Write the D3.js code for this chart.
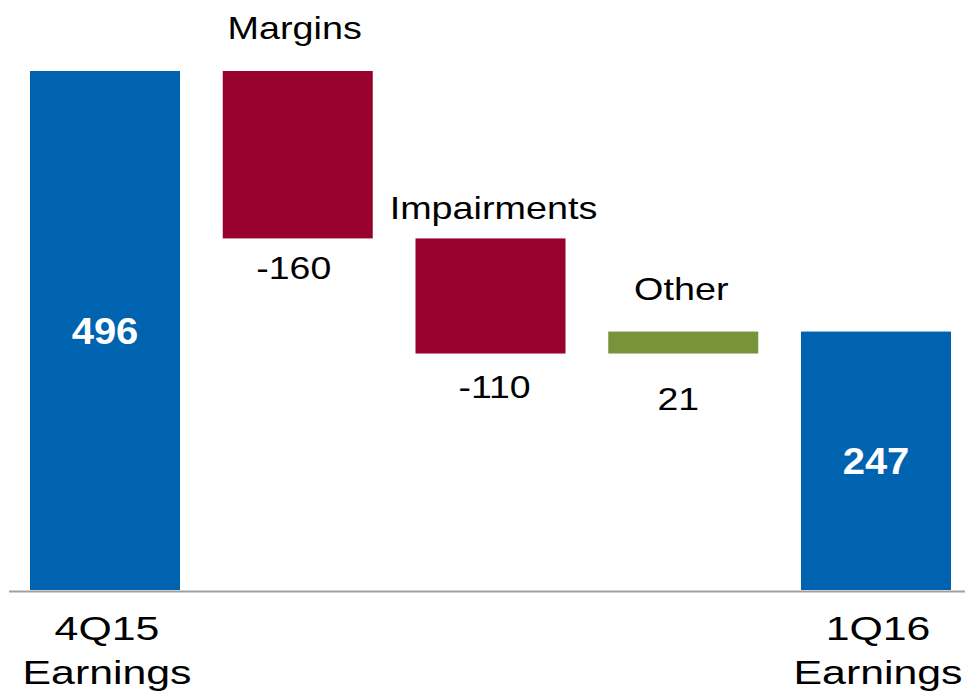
<!DOCTYPE html>
<html>
<head>
<meta charset="utf-8">
<script src="https://cdn.jsdelivr.net/npm/d3@7"></script>
<style>
  html, body { margin: 0; padding: 0; background: #ffffff; }
  svg { display: block; font-family: "Liberation Sans", Arial, sans-serif; }
</style>
</head>
<body>
<svg id="chart" width="965" height="698"></svg>
<script>
// Earnings bridge, 4Q15 to 1Q16
const categories = ["4Q15 Earnings", "Margins", "Impairments", "Other", "1Q16 Earnings"];
const stepKinds  = ["total", "delta", "delta", "delta", "total"];
const stepValues = [496, -160, -110, 21, 247];
const tickLines  = [["4Q15", "Earnings"], [], [], [], ["1Q16", "Earnings"]];

// label spacing (px) above / below the change bars, and small horizontal nudges
const nameGap    = [0, 32, 19, 32, 0];
const valueGap   = [0, 41, 44, 56, 0];
const nameShift  = [0, -3, 3, -2, 0];
const valueShift = [0, -4, 4, -5, 0];

const colors = { total: "#0063b0", down: "#98002e", up: "#77943a" };

const svg = d3.select("#chart");

const x = d3.scaleBand()
  .domain(categories)
  .range([30, 951])
  .paddingInner(0.2218)
  .paddingOuter(0);

const y = d3.scaleLinear()
  .domain([0, 496])
  .range([590, 71]);

// running start/end for each step
let running = 0;
const steps = categories.map((c, i) => {
  const v = stepValues[i];
  let lo, hi;
  if (stepKinds[i] === "total") {
    lo = 0; hi = v; running = v;
  } else {
    const start = running;
    running = start + v;
    lo = Math.min(start, running); hi = Math.max(start, running);
  }
  return { cat: c, kind: stepKinds[i], value: v, lo, hi, i };
});

// baseline
svg.append("line")
  .attr("x1", 9).attr("x2", 965)
  .attr("y1", y(0) + 1.5).attr("y2", y(0) + 1.5)
  .attr("stroke", "#a0a0a0")
  .attr("stroke-width", 2);

// bars
svg.append("g").selectAll("rect")
  .data(steps)
  .join("rect")
  .attr("x", d => x(d.cat))
  .attr("width", x.bandwidth())
  .attr("y", d => y(d.hi))
  .attr("height", d => y(d.lo) - y(d.hi))
  .attr("fill", d => d.kind === "total" ? colors.total : (d.value < 0 ? colors.down : colors.up));

function stretchedText(g, tx, ty, sx, text) {
  return g.append("text")
    .attr("transform", `translate(${tx},${ty}) scale(${sx},1)`)
    .attr("text-anchor", "middle")
    .text(text);
}

const labels = svg.append("g");

steps.forEach(d => {
  const cx = x(d.cat) + x.bandwidth() / 2;
  if (d.kind === "total") {
    const cy = (y(d.lo) + y(d.hi)) / 2;
    stretchedText(labels, cx, cy + 13.5, 1.08, String(d.value))
      .attr("fill", "#ffffff")
      .attr("font-weight", "bold")
      .attr("font-size", 37);
  } else {
    stretchedText(labels, cx + nameShift[d.i], y(d.hi) - nameGap[d.i], 1.18, d.cat)
      .attr("fill", "#000000")
      .attr("font-size", 32);
    stretchedText(labels, cx + valueShift[d.i], y(d.lo) + valueGap[d.i], 1.17, String(d.value))
      .attr("fill", "#000000")
      .attr("font-size", 32);
  }
});

// category labels under the axis
const ticks = svg.append("g");
categories.forEach((c, i) => {
  const cx = x(c) + x.bandwidth() / 2 + 2;
  tickLines[i].forEach((line, k) => {
    stretchedText(ticks, cx, 640 + k * 44, 1.26, line)
      .attr("fill", "#000000")
      .attr("font-size", 34);
  });
});
</script>
</body>
</html>
